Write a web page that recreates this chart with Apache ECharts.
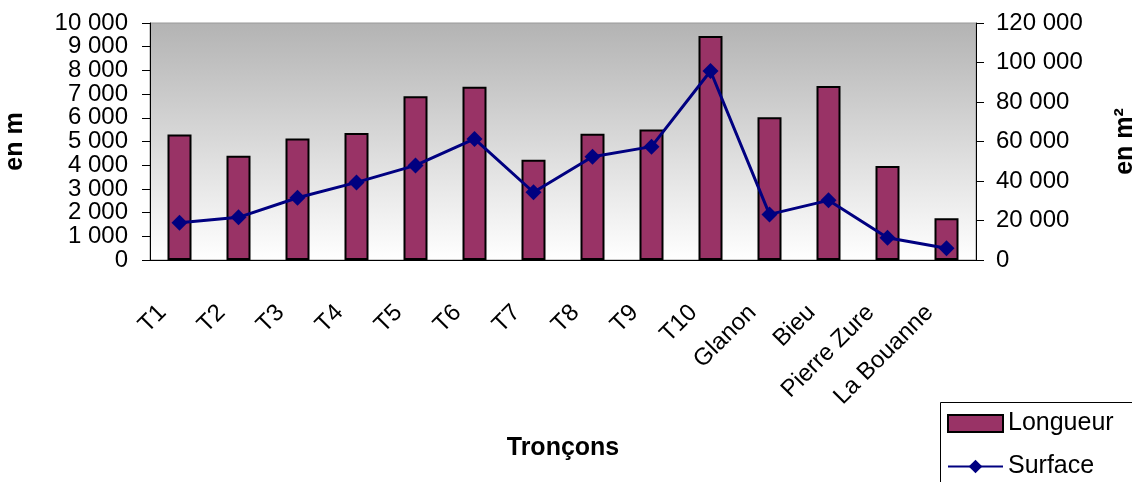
<!DOCTYPE html>
<html>
<head>
<meta charset="utf-8">
<script src="https://cdn.jsdelivr.net/npm/echarts@6/dist/echarts.min.js"></script>
<style>
  html, body { margin: 0; padding: 0; background: #fff; }
  #chart { width: 1132px; height: 482px; }
</style>
</head>
<body>
<div id="chart"></div>
<script>
  const categories = ['T1', 'T2', 'T3', 'T4', 'T5', 'T6', 'T7', 'T8', 'T9', 'T10', 'Glanon', 'Bieu', 'Pierre Zure', 'La Bouanne']
  const longueur = [5300, 4400, 5130, 5360, 6910, 7310, 4230, 5330, 5510, 9450, 6020, 7340, 3970, 1760]
  const surface = [18900, 21600, 31500, 39300, 47900, 61300, 34300, 52300, 57400, 95700, 23100, 30200, 11300, 5900]
  const leftTicks = ['0', '1 000', '2 000', '3 000', '4 000', '5 000', '6 000', '7 000', '8 000', '9 000', '10 000']

  const font = 'Liberation Sans, Arial, sans-serif'

  // 120000 -> "120 000"
  function fmt(v) {
    return String(v).replace(/\B(?=(\d{3})+(?!\d))/g, ' ')
  }

  let chart = echarts.init(document.getElementById('chart'))
  let option = {
    animation: false,
    textStyle: { fontFamily: font, color: '#000' },
    grid: {
      left: 150,
      right: 156,
      top: 23,
      bottom: 222,
      containLabel: false,
      outerBoundsMode: 'none',
      show: true,
      borderColor: '#999',
      borderWidth: 1,
      backgroundColor: {
        type: 'linear', x: 0, y: 0, x2: 0, y2: 1,
        colorStops: [{ offset: 0, color: '#b3b3b3' }, { offset: 1, color: '#ffffff' }]
      }
    },
    legend: {
      orient: 'vertical',
      left: 947,
      top: 411,
      height: 120,
      padding: 0,
      itemWidth: 55,
      itemHeight: 17,
      itemGap: 18,
      textStyle: { fontSize: 25, fontFamily: font, color: '#000' },
      data: [
        { name: 'Longueur', icon: 'rect' },
        { name: 'Surface' }
      ]
    },
    graphic: [{
      type: 'rect',
      left: 940,
      top: 402,
      shape: { width: 220, height: 110 },
      style: { fill: 'transparent', stroke: '#000', lineWidth: 1 },
      z: 0
    }],
    xAxis: {
      type: 'category',
      data: categories,
      name: 'Tronçons',
      nameLocation: 'middle',
      nameGap: 176,
      nameTextStyle: { fontSize: 25, fontWeight: 'bold', fontFamily: font, color: '#000' },
      axisLine: { lineStyle: { color: '#000', width: 1 } },
      axisTick: { length: 7, lineStyle: { color: '#000' } },
      axisLabel: {
        rotate: 45,
        interval: 0,
        margin: 32,
        padding: [0, 24, 0, 0],
        fontSize: 24,
        fontFamily: font,
        color: '#000'
      }
    },
    yAxis: [{
      type: 'value',
      min: 0,
      max: 10000,
      interval: 1000,
      name: 'en m',
      nameLocation: 'middle',
      nameGap: 122,
      nameTextStyle: { fontSize: 25, fontWeight: 'bold', fontFamily: font, color: '#000' },
      axisLine: { show: true, lineStyle: { color: '#000', width: 1 } },
      axisTick: { show: true, length: 8, lineStyle: { color: '#000' } },
      splitLine: { show: false },
      axisLabel: { show: false }
    }, {
      type: 'value',
      min: 0,
      max: 120000,
      interval: 20000,
      position: 'right',
      name: 'en m²',
      nameLocation: 'middle',
      nameRotate: 90,
      nameGap: 137,
      nameTextStyle: { fontSize: 25, fontWeight: 'bold', fontFamily: font, color: '#000' },
      axisLine: { show: true, lineStyle: { color: '#000', width: 1 } },
      axisTick: { show: true, length: 8, lineStyle: { color: '#000' } },
      splitLine: { show: false },
      axisLabel: {
        margin: 20, fontSize: 24, fontFamily: font, color: '#000', formatter: fmt,
        showMinLabel: true, showMaxLabel: true
      }
    }, {
      // labels only: every left tick label must show
      type: 'category',
      position: 'left',
      data: leftTicks,
      boundaryGap: false,
      axisLine: { show: false },
      axisTick: { show: false },
      splitLine: { show: false },
      axisLabel: { interval: 0, margin: 22, fontSize: 24, fontFamily: font, color: '#000' }
    }],
    series: [{
      name: 'Longueur',
      type: 'bar',
      yAxisIndex: 0,
      data: longueur,
      barWidth: 24,
      itemStyle: { color: '#993366', borderColor: '#000', borderWidth: 2 }
    }, {
      name: 'Surface',
      type: 'line',
      yAxisIndex: 1,
      data: surface,
      symbol: 'diamond',
      symbolSize: 16,
      lineStyle: { color: '#000080', width: 3 },
      itemStyle: { color: '#000080' }
    }]
  }
  chart.setOption(option)
</script>
</body>
</html>
